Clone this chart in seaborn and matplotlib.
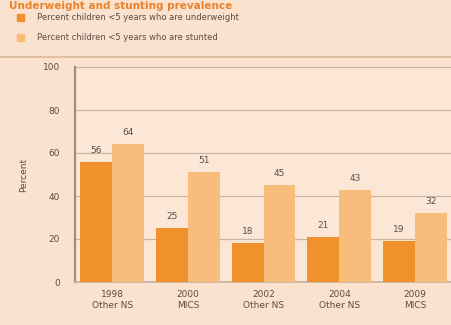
import numpy as np
import pandas as pd
import seaborn as sns
import matplotlib.pyplot as plt
from matplotlib.patches import Rectangle
from matplotlib.lines import Line2D

years = ['1998\nOther NS', '2000\nMICS', '2002\nOther NS', '2004\nOther NS', '2009\nMICS']
underweight = [56, 25, 18, 21, 19]
stunted = [64, 51, 45, 43, 32]
series = ['Percent children <5 years who are underweight',
          'Percent children <5 years who are stunted']

df = pd.DataFrame({
    'year': years * 2,
    'value': underweight + stunted,
    'series': [series[0]] * len(years) + [series[1]] * len(years),
})

bg = '#fbe2cf'
c_under = '#f0912c'
c_stunt = '#f8bd7b'
txt = '#5a4d44'

sns.set_theme(style='white')
plt.rcParams['font.family'] = ['DejaVu Sans']

fig = plt.figure(figsize=(4.52, 3.25), dpi=100, facecolor=bg)
ax = fig.add_axes([75 / 452, 43 / 325, 390 / 452, 215 / 325])
ax.set_facecolor('#fce7d7')

sns.barplot(data=df, x='year', y='value', hue='series', palette=[c_under, c_stunt],
            width=0.84, gap=0.0, saturation=1, legend=False, linewidth=0,
            ax=ax, zorder=3)

for cont in ax.containers:
    ax.bar_label(cont, fmt='%d', padding=5, fontsize=6.5, color=txt)

ax.set_ylim(0, 100)
ax.set_xlim(-0.49, 4.66)
ax.set_yticks([0, 20, 40, 60, 80, 100])
ax.yaxis.grid(True, color='#c8b4a3', linewidth=0.9, zorder=0)
ax.tick_params(axis='both', length=0, labelsize=6.5, labelcolor=txt)
ax.tick_params(axis='y', pad=11)
ax.tick_params(axis='x', pad=6)
ax.set_xlabel('')
ax.set_ylabel('Percent', fontsize=6.5, color=txt, labelpad=10)
for s in ['top', 'right']:
    ax.spines[s].set_visible(False)
ax.spines['left'].set_color('#9e8f84')
ax.spines['left'].set_linewidth(1.6)
ax.spines['bottom'].set_color('#c8b4a3')

# title and legend
fig.text(0.02, 1 - 1 / 325, 'Underweight and stunting prevalence', fontsize=7.5,
         fontweight='bold', color='#e9822a', va='top', ha='left')
fig.patches.append(Rectangle((17 / 452, 1 - 21 / 325), 7 / 452, 7 / 325,
                             transform=fig.transFigure, color=c_under, figure=fig))
fig.patches.append(Rectangle((17 / 452, 1 - 41 / 325), 7 / 452, 7 / 325,
                             transform=fig.transFigure, color=c_stunt, figure=fig))
fig.text(37 / 452, 1 - 17 / 325, series[0], fontsize=6, color=txt, va='center')
fig.text(37 / 452, 1 - 37 / 325, series[1], fontsize=6, color=txt, va='center')
fig.lines.append(Line2D([0, 1], [1 - 57 / 325] * 2, transform=fig.transFigure,
                        color='#d9b89c', linewidth=1.2))

fig.savefig('out.png', dpi=100, facecolor=bg)
